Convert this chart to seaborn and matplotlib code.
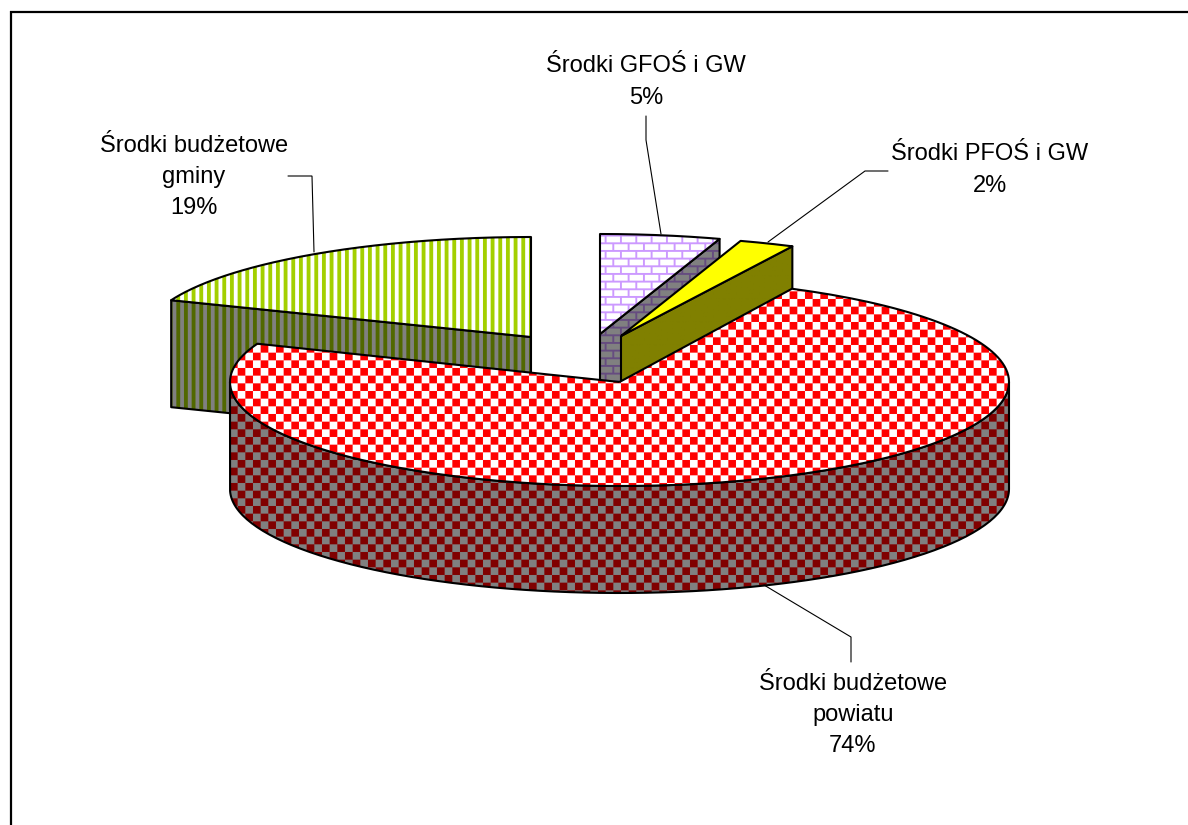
import numpy as np
import seaborn as sns
import matplotlib
matplotlib.use("Agg")
import matplotlib.pyplot as plt
from matplotlib.path import Path
from matplotlib.patches import PathPatch
from matplotlib.colors import to_rgb

# ---- data ----
categories = ["Środki GFOŚ i GW", "Środki PFOŚ i GW", "Środki budżetowe\npowiatu", "Środki budżetowe\ngminy"]
shares = [5.0, 2.3, 73.7, 19.0]
shown_pct = ["5%", "2%", "74%", "19%"]

sns.set_theme(style="white")
plt.rcParams["font.family"] = ["Liberation Sans", "DejaVu Sans"]

W, H = 1188, 825
fig = plt.figure(figsize=(W / 100, H / 100), dpi=100, facecolor="white")
ax = fig.add_axes([0, 0, 1, 1])
ax.set_xlim(0, W)
ax.set_ylim(H, 0)
ax.axis("off")

PX = 23 / 12  # size of one pattern cell in pixels
DEPTH = 107
LW = 1.5
TILE_CHECK = np.array([[(i // 4 + j // 4) % 2 for j in range(8)] for i in range(8)])
TILE_STRIPE = np.array([[1 if j % 4 < 2 else 0 for j in range(8)] for i in range(8)])
TILE_BRICK = np.array([
    [1, 1, 1, 1, 1, 1, 1, 1], [1, 0, 0, 0, 0, 0, 0, 0], [1, 0, 0, 0, 0, 0, 0, 0], [1, 0, 0, 0, 0, 0, 0, 0],
    [1, 1, 1, 1, 1, 1, 1, 1], [0, 0, 0, 0, 1, 0, 0, 0], [0, 0, 0, 0, 1, 0, 0, 0], [0, 0, 0, 0, 1, 0, 0, 0]])


def fill(path, tile, fg, bg, z, shift=(0, 0)):
    """Paint a tiled two-colour pattern inside a path."""
    n = int(max(W, H) / PX / 8) + 3
    mask = np.kron(np.tile(tile, (n, n)), np.ones((2, 2), int))
    img = np.where(mask[..., None] == 1, np.array(to_rgb(fg)), np.array(to_rgb(bg)))
    size = mask.shape[0] * PX / 2
    x0, y0 = shift[0] - 8 * PX, shift[1] - 8 * PX
    im = ax.imshow(img, extent=(x0, x0 + size, y0 + size, y0), interpolation="bilinear",
                   zorder=z, aspect="auto")
    patch = PathPatch(path, transform=ax.transData, fc="none", ec="none")
    ax.add_patch(patch)
    im.set_clip_path(patch)
    ax.set_xlim(0, W)
    ax.set_ylim(H, 0)


def outline(path, z):
    ax.add_patch(PathPatch(path, fc="none", ec="black", lw=LW, zorder=z, joinstyle="round"))


def rim(cx, cy, rx, ry, a0, a1, n=160):
    t = np.radians(np.linspace(a0, a1, n))
    return np.c_[cx + rx * np.sin(t), cy - ry * np.cos(t)]


def poly(pts):
    return Path(np.vstack([pts, pts[:1]]))


# cumulative angles, clockwise from 12 o'clock
edges = np.concatenate([[0], np.cumsum(shares)]) * 3.6

styles = {
    0: dict(center=(600, 334), rx=387, ry=100, tile=TILE_BRICK, shift=(-1, -3),
            top=("#CC99FF", "white"), side=("#664C80", "#808080")),
    1: dict(center=(621, 336), rx=387, ry=100, tile=np.ones((8, 8), int), shift=(0, 0),
            top=("#FFFF00", "#FFFF00"), side=("#808000", "#808000")),
    2: dict(center=(619.5, 382), rx=389.5, ry=104, tile=TILE_CHECK, shift=(0, 0),
            top=("#FF0000", "white"), side=("#800000", "#808080")),
    3: dict(center=(531, 337), rx=387, ry=100, tile=TILE_STRIPE, shift=(0, 0),
            top=("#A3D000", "white"), side=("#516800", "#808080")),
}
draw_order = [3, 0, 1, 2]
z = 2
for idx in draw_order:
    s = styles[idx]
    cx, cy = s["center"]
    a0, a1 = edges[idx], edges[idx + 1]
    arc = rim(cx, cy, s["rx"], s["ry"], a0, a1)
    apex = np.array([[cx, cy]])
    top_pts = np.vstack([apex, arc])
    down = np.array([0, DEPTH])
    sides = []
    # radial faces that look towards the viewer
    if idx == 0 or idx == 1:
        sides.append(np.vstack([apex, arc[-1:], arc[-1:] + down, apex + down]))
    if idx == 3:
        sides.append(np.vstack([apex, arc[:1], arc[:1] + down, apex + down]))
    # outer curved wall, front half only
    if a0 < 270 and a1 > 90:
        lo, hi = max(a0, 90), min(a1, 270)
        wall = rim(cx, cy, s["rx"], s["ry"], lo, hi)
        sides.append(np.vstack([wall, wall[::-1] + down]))
    for pts in sides:
        p = poly(pts)
        fill(p, s["tile"], s["side"][0], s["side"][1], z, s["shift"])
        outline(p, z + 0.5)
        z += 1
    p = poly(top_pts)
    fill(p, s["tile"], s["top"][0], s["top"][1], z, s["shift"])
    outline(p, z + 0.5)
    z += 1

# leader lines
leaders = [
    ([661, 646, 646], [234, 140, 116]),
    ([768, 865, 888], [242, 171, 171]),
    ([764, 851, 851], [585, 637, 662]),
    ([314, 312, 288], [252, 176, 176]),
]
for xs, ys in leaders:
    ax.plot(xs, ys, color="black", lw=0.8, zorder=z, solid_joinstyle="miter")

label_pos = [(646, 82), (990, 170), (853, 715), (194, 177)]
for name, pct, (x, y) in zip(categories, shown_pct, label_pos):
    ax.text(x, y, f"{name}\n{pct}", ha="center", va="center", fontsize=17, color="black",
            linespacing=1.55, zorder=z + 1)

# chart frame: only the top and left edges fall inside the picture
ax.plot([10, W], [12, 12], color="black", lw=1.6, zorder=z + 2, solid_capstyle="butt")
ax.plot([11, 11], [11, H], color="black", lw=1.6, zorder=z + 2, solid_capstyle="butt")

fig.savefig("out.png", dpi=100, facecolor="white")
